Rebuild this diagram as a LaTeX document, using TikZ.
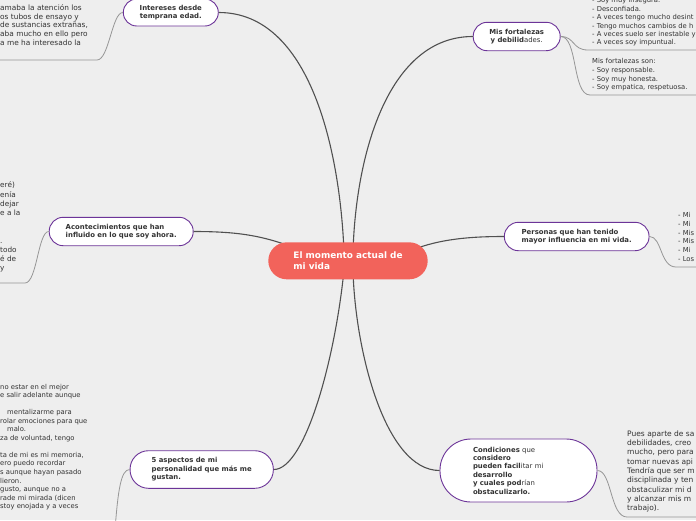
\documentclass[tikz,border=0pt]{standalone}
\usepackage{fontspec}
\setmainfont{DejaVu Sans}
\definecolor{bgc}{RGB}{238,238,238}
\definecolor{topicline}{RGB}{108,52,152}
\definecolor{hubred}{RGB}{242,99,91}
\definecolor{branchline}{RGB}{80,80,80}
\definecolor{twigline}{RGB}{150,150,150}
\definecolor{inktext}{RGB}{51,51,51}

\begin{document}
\begin{tikzpicture}[x=1pt,y=-1pt,
    topic/.style={draw=topicline,fill=white,line width=0.9pt,inner sep=0pt,text=inktext,
      align=left,font=\fontsize{6.9}{8.4}\selectfont\bfseries},
    hub/.style={fill=hubred,inner sep=0pt,text=white,align=left,
      font=\fontsize{8.9}{11}\selectfont\bfseries},
    note/.style={anchor=west,inner sep=0pt,align=left,text=inktext},
    branch/.style={draw=branchline,line width=1.1pt},
    twig/.style={draw=twigline,line width=0.8pt}]
  \fill[bgc] (0,0) rectangle (696,520);
  \useasboundingbox (0,0) rectangle (696,520);
  \clip (0,0) rectangle (696,520);

  % text notes
  \node[note,font=\fontsize{7.4}{8.85}\selectfont] (tlnote) at (0,25)
    {amaba la atención los\\os tubos de ensayo y\\de sustancias extrañas,\\aba mucho en ello pero\\a me ha interesado la};
  \node[note,font=\fontsize{7.3}{9.2}\selectfont] (lmnote) at (0,227.1)
    {eré)\\enía\\dejar\\e a la\\\mbox{}\\\mbox{}\\.\\todo\\é de\\y};
  \node[note,font=\fontsize{6.8}{8.53}\selectfont] (blnote) at (0,447)
    {no estar en el mejor\\e salir adelante aunque\\\mbox{}\\\hspace*{7pt}mentalizarme para\\rolar emociones para que\\\hspace*{7pt}malo.\\za de voluntad, tengo\\\mbox{}\\ta de mi es mi memoria,\\ero puedo recordar\\s aunque hayan pasado\\lieron.\\gusto, aunque no a\\rade mi mirada (dicen\\stoy enojada y a veces};
  \node[note,font=\fontsize{6.8}{8.4}\selectfont] (trnote) at (592,22)
    {- Soy muy insegura.\\- Desconfiada.\\- A veces tengo mucho desint\\- Tengo muchos cambios de h\\- A veces suelo ser inestable y\\- A veces soy impuntual.};
  \node[note,font=\fontsize{6.8}{8.55}\selectfont] (frnote) at (592,74.9)
    {Mis fortalezas son:\\- Soy responsable.\\- Soy muy honesta.\\- Soy empatica, respetuosa.};
  \node[note,font=\fontsize{6.8}{8.9}\selectfont] (rmnote) at (678,237)
    {- Mi\\- Mi\\- Mis\\- Mis\\- Mi\\- Los};
  \node[note,font=\fontsize{7.5}{9.35}\selectfont] (brnote) at (627,471.5)
    {Pues aparte de sa\\debilidades, creo\\mucho, pero para\\tomar nuevas api\\Tendría que ser m\\disciplinada y ten\\obstaculizar mi d\\y alcanzar mis m\\trabajo).};

  % topics
  \node[topic,align=center,minimum width=95,minimum height=27,rounded corners=13.5] (inter) at (170.8,12.5)
    {Intereses desde\\temprana edad.};
  \node[topic,align=center,minimum width=87,minimum height=28.4,rounded corners=14] (forta) at (516.7,36.5)
    {Mis fortalezas\\y debilid{\mdseries ades.}};
  \node[topic,minimum width=144,minimum height=28.4,rounded corners=14] (acon) at (121.2,231.5)
    {Acontecimientos que han\\influido en lo que soy ahora.};
  \node[topic,minimum width=144.7,minimum height=28.4,rounded corners=14] (perso) at (576.7,236.5)
    {Personas que han tenido\\mayor influencia en mi vida.};
  \node[topic,minimum width=143.3,minimum height=37.6,rounded corners=18.5] (aspect) at (201.7,469.5)
    {5 aspectos de mi\\personalidad que más me\\gustan.};
  \node[topic,text width=91,minimum width=157,minimum height=63,rounded corners=31] (condi) at (518.5,470.5)
    {Condiciones {\mdseries que}\\considero\\pueden facil{\mdseries itar mi}\\desarrollo\\y cuales pod{\mdseries rían}\\obstaculizarlo.};

  % twigs to the notes
  \coordinate (tlend) at (-4,60);
  \coordinate (lmend) at (-4,283);
  \coordinate (blend) at (115,530);
  \coordinate (trend) at (700,50);
  \coordinate (frend) at (700,95);
  \coordinate (rmend) at (700,267);
  \coordinate (brend) at (700,517);
  \draw[twig] (inter.west) .. controls (112,12.5) and (109,60) .. (97,60) -- (tlend);
  \draw[twig] (acon.west) .. controls (38,231.5) and (37,283) .. (25,283) -- (lmend);
  \draw[twig] (aspect.west) .. controls (121,469.5) and (118,490) .. (blend);
  \draw[twig] (forta.east) .. controls (575,36.5) and (572,50) .. (588,50) -- (trend);
  \draw[twig] (forta.east) .. controls (578,36.5) and (572,95) .. (590,95) -- (frend);
  \draw[twig] (perso.east) .. controls (662,236.5) and (660,267) .. (676,267) -- (rmend);
  \draw[twig] (condi.east) .. controls (612,470.5) and (610,517) .. (627,517) -- (brend);

  % branches to the hub
  \coordinate (hubNa) at (344,252);
  \coordinate (hubNb) at (353,252);
  \coordinate (hubSa) at (344,270);
  \coordinate (hubSb) at (353,270);
  \coordinate (hubW) at (300,250);
  \coordinate (hubE) at (412,250);
  \draw[branch] (inter.east) .. controls (310,12.5) and (340,150) .. (hubNa);
  \draw[branch] (forta.west) .. controls (390,36.5) and (356,150) .. (hubNb);
  \draw[branch] (acon.east) .. controls (240,231.5) and (265,236) .. (hubW);
  \draw[branch] (perso.west) .. controls (470,236.5) and (440,239) .. (hubE);
  \draw[branch] (aspect.east) .. controls (305,469.5) and (335,360) .. (hubSa);
  \draw[branch] (condi.west) .. controls (385,470.5) and (355,350) .. (hubSb);

  \node[hub,minimum width=159.4,minimum height=37,rounded corners=18.5] (centre) at (348,260.8)
    {El momento actual de\\mi vida};
\end{tikzpicture}
\end{document}
